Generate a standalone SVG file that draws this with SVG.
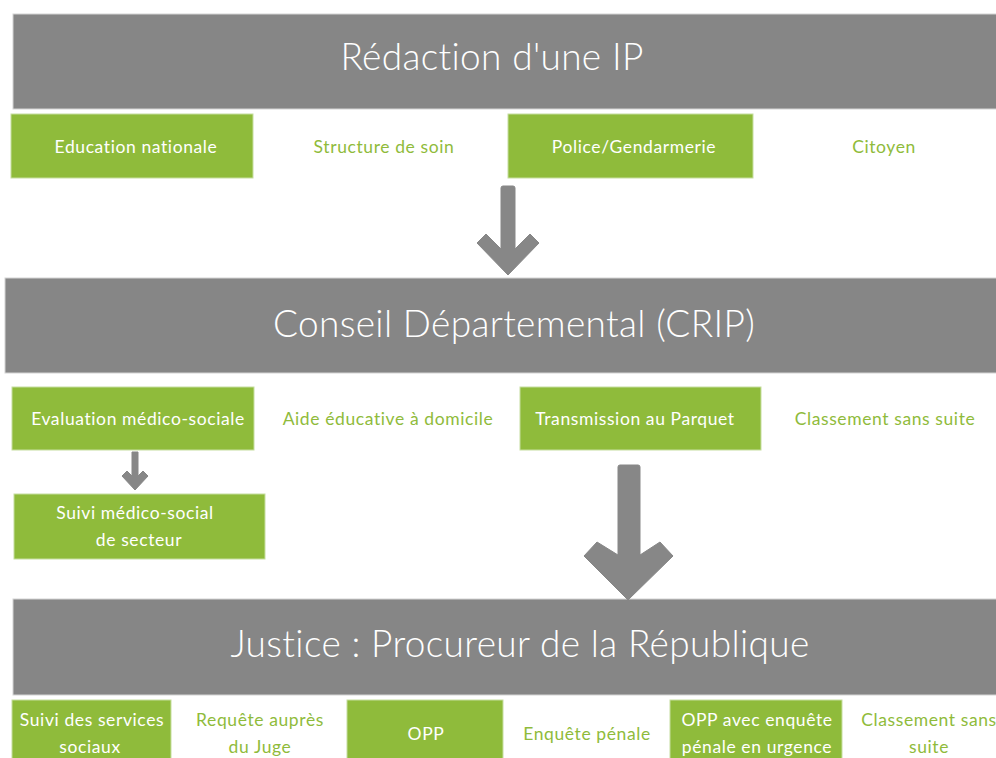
<svg xmlns="http://www.w3.org/2000/svg" width="996" height="758" viewBox="0 0 996 758">
  <style>
    .banner { fill: #868686; stroke: #d4d4d4; stroke-width: 1; }
    .box { fill: #8fbb3b; stroke: #c6dea0; stroke-width: 1; }
    .title { font-family: "Lato", "Liberation Sans", sans-serif; font-weight: 300; font-size: 37px; letter-spacing: 0.35px; fill: #ffffff; text-anchor: middle; }
    .lbl { font-family: "Lato", "Liberation Sans", sans-serif; font-weight: 400; font-size: 17.5px; letter-spacing: 0.6px; text-anchor: middle; }
    .w { fill: #ffffff; }
    .g { fill: #8fbb3b; }
    .arrow { fill: #878787; stroke: #878787; stroke-width: 1; stroke-linejoin: round; }
  </style>
  <rect width="996" height="758" fill="#ffffff"/>

  <!-- Level 1: reporting -->
  <g id="redaction-ip">
    <rect class="banner" x="13" y="14" width="990" height="95"/>
    <text class="title" x="492" y="70">Rédaction d'une IP</text>
  </g>
  <g id="education-nationale">
    <rect class="box" x="11" y="114" width="242" height="64"/>
    <text class="lbl w" x="136" y="153">Education nationale</text>
  </g>
  <g id="structure-soin">
    <text class="lbl g" x="384" y="153">Structure de soin</text>
  </g>
  <g id="police-gendarmerie">
    <rect class="box" x="508" y="114" width="245" height="64"/>
    <text class="lbl w" x="634" y="153">Police/Gendarmerie</text>
  </g>
  <g id="citoyen">
    <text class="lbl g" x="884" y="153">Citoyen</text>
  </g>

  <!-- Level 2: CRIP -->
  <g id="conseil-departemental">
    <rect class="banner" x="5" y="278" width="998" height="95"/>
    <text class="title" x="514" y="337">Conseil Départemental (CRIP)</text>
  </g>
  <g id="evaluation">
    <rect class="box" x="12" y="387" width="242" height="63"/>
    <text class="lbl w" x="138" y="425">Evaluation médico-sociale</text>
  </g>
  <g id="aide-educative">
    <text class="lbl g" x="388" y="425">Aide éducative à domicile</text>
  </g>
  <g id="transmission-parquet">
    <rect class="box" x="520" y="387" width="241" height="63"/>
    <text class="lbl w" x="635" y="425">Transmission au Parquet</text>
  </g>
  <g id="classement-crip">
    <text class="lbl g" x="885" y="425">Classement sans suite</text>
  </g>
  <g id="suivi-medico-social">
    <rect class="box" x="14" y="494" width="251" height="65"/>
    <text class="lbl w" x="135" y="519">Suivi médico-social</text>
    <text class="lbl w" x="139" y="546">de secteur</text>
  </g>

  <!-- Level 3: justice -->
  <g id="justice">
    <rect class="banner" x="13" y="599" width="990" height="96"/>
    <text class="title" x="520" y="657">Justice : Procureur de la République</text>
  </g>
  <g id="suivi-services-sociaux">
    <rect class="box" x="12" y="700" width="159" height="70"/>
    <text class="lbl w" x="92" y="726">Suivi des services</text>
    <text class="lbl w" x="90" y="753">sociaux</text>
  </g>
  <g id="requete-juge">
    <text class="lbl g" x="260" y="726">Requête auprès</text>
    <text class="lbl g" x="260" y="753">du Juge</text>
  </g>
  <g id="opp">
    <rect class="box" x="347" y="700" width="156" height="70"/>
    <text class="lbl w" x="426" y="740">OPP</text>
  </g>
  <g id="enquete-penale">
    <text class="lbl g" x="587" y="740">Enquête pénale</text>
  </g>
  <g id="opp-urgence">
    <rect class="box" x="670" y="700" width="172" height="70"/>
    <text class="lbl w" x="757" y="726">OPP avec enquête</text>
    <text class="lbl w" x="757" y="753">pénale en urgence</text>
  </g>
  <g id="classement-justice">
    <text class="lbl g" x="929" y="726">Classement sans</text>
    <text class="lbl g" x="929" y="753">suite</text>
  </g>

  <!-- Connectors: thick block arrows -->
  <g id="connectors">
    <!-- IP to CRIP -->
    <path class="arrow" d="M501,188 Q501,186 503,186 L513,186 Q515,186 515,188 L515,249 L530,234 L539,243 L508,275 L477,243 L486,234 L501,249 Z"/>
    <!-- Evaluation to Suivi médico-social -->
    <path class="arrow" d="M132,452 L138,452 L138,476 L143,471 L148,476 L135,490 L122,476 L127,471 L132,476 Z"/>
    <!-- Transmission au Parquet to Justice -->
    <path class="arrow" d="M618,467 Q618,465 620,465 L638,465 Q640,465 640,467 L640,555 L660,542 L673,556 L628,600 L584,556 L597,542 L618,555 Z"/>
  </g>
</svg>
